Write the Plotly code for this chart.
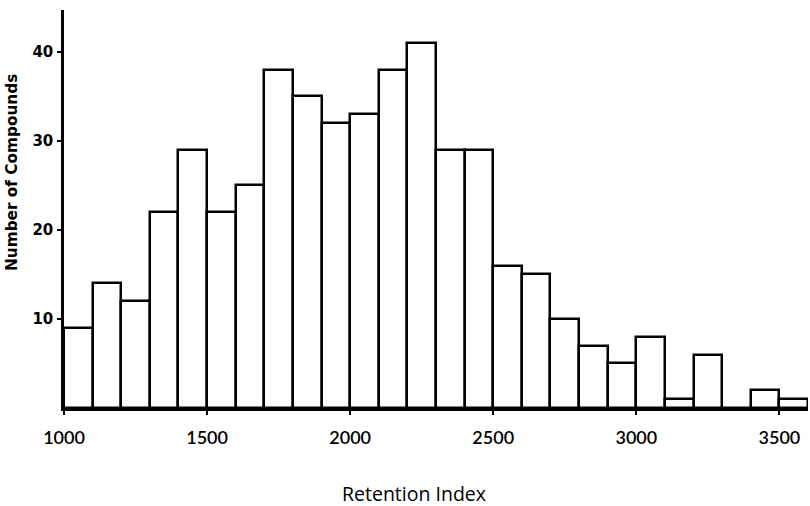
import plotly.graph_objects as go

# Histogram of retention indices, 100-unit bins from 1000 to 3600
bin_starts = [1000, 1100, 1200, 1300, 1400, 1500, 1600, 1700, 1800, 1900,
              2000, 2100, 2200, 2300, 2400, 2500, 2600, 2700, 2800, 2900,
              3000, 3100, 3200, 3300, 3400, 3500]
counts = [9, 14, 12, 22, 29, 22, 25, 38, 35, 32,
          33, 38, 41, 29, 29, 16, 15, 10, 7, 5,
          8, 1, 6, 0, 2, 1]
bin_width = 100

x_ticks = [1000, 1500, 2000, 2500, 3000, 3500]
y_ticks = [10, 20, 30, 40]

x_title = "Retention Index"
y_title = "Number of Compounds"

centers = [s + bin_width / 2 for s in bin_starts]

fig = go.Figure()
fig.add_trace(go.Bar(
    x=centers,
    y=counts,
    width=[bin_width] * len(counts),
    marker=dict(color="white", line=dict(color="black", width=2.5)),
    showlegend=False,
    hoverinfo="x+y",
))

fig.update_layout(
    width=810,
    height=506,
    margin=dict(l=64, r=2, t=10, b=98),
    paper_bgcolor="white",
    plot_bgcolor="white",
    bargap=0,
    font=dict(family="Lato", color="black"),
)

fig.update_xaxes(
    range=[1000, 3600],
    tickvals=x_ticks,
    ticktext=[str(v) for v in x_ticks],
    showgrid=False,
    zeroline=False,
    showline=True,
    linecolor="black",
    linewidth=2.5,
    ticks="outside",
    ticklen=4,
    tickwidth=2,
    tickcolor="black",
    ticklabelstandoff=8,
    tickfont=dict(family="Lato", size=18, color="black", weight=600),
)

fig.update_yaxes(
    range=[0, 44.7],
    tickvals=y_ticks,
    showgrid=False,
    zeroline=False,
    showline=True,
    linecolor="black",
    linewidth=2.5,
    ticks="outside",
    ticklen=4,
    tickwidth=2,
    tickcolor="black",
    ticklabelstandoff=1,
    tickfont=dict(family="DejaVu Sans", size=15, color="black", weight="bold"),
)

fig.add_annotation(
    text=x_title, xref="paper", yref="paper",
    x=0.470, y=-0.216, showarrow=False,
    xanchor="center", yanchor="middle",
    font=dict(family="Open Sans", size=19.5, color="black"),
)
fig.add_annotation(
    text=y_title, xref="paper", yref="paper",
    x=-0.0699, y=0.593, showarrow=False, textangle=-90,
    xanchor="center", yanchor="middle",
    font=dict(family="DejaVu Sans", size=15.3, color="black", weight="bold"),
)

fig.write_html("out.html")
